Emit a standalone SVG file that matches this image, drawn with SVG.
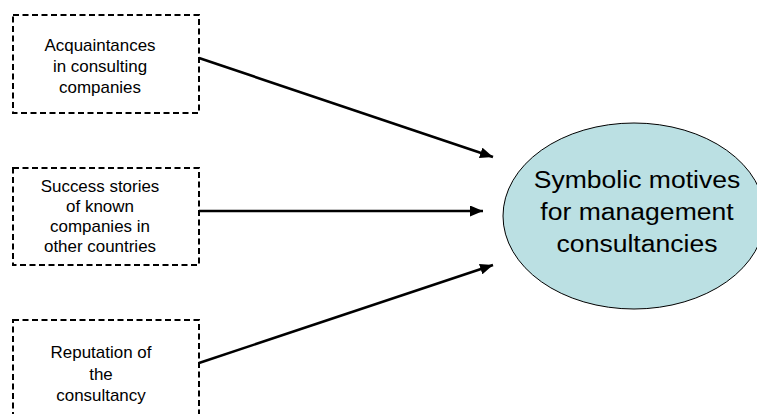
<svg xmlns="http://www.w3.org/2000/svg" width="757" height="414" viewBox="0 0 757 414">
<defs>
<style>
.box{fill:#fff;stroke:#000;stroke-width:2;stroke-dasharray:6,3.5}
.t{font-family:"Liberation Sans",Arial,sans-serif;font-size:16px;fill:#000;text-anchor:middle}
.big{font-family:"Liberation Sans",Arial,sans-serif;font-size:23.5px;fill:#000;text-anchor:middle}
.c{stroke:#000;stroke-width:2.6;fill:none}
</style>
<marker id="ah" viewBox="0 0 13 11" refX="13" refY="5.5" markerWidth="13" markerHeight="11" markerUnits="userSpaceOnUse" orient="auto">
<path d="M0,0 L13,5.5 L0,11 Z" fill="#000"/>
</marker>
</defs>
<rect width="757" height="414" fill="#fff"/>
<g id="n1">
<rect class="box" x="13" y="15" width="186" height="98"/>
<g transform="translate(100,0) scale(1.06,1)">
<text class="t" x="0" y="51">Acquaintances</text>
<text class="t" x="0" y="72">in consulting</text>
<text class="t" x="0" y="93">companies</text>
</g>
</g>
<g id="n2">
<rect class="box" x="13" y="168" width="186" height="97"/>
<g transform="translate(100,0) scale(1.06,1)">
<text class="t" x="0" y="192">Success stories</text>
<text class="t" x="0" y="212">of known</text>
<text class="t" x="0" y="232">companies in</text>
<text class="t" x="0" y="252">other countries</text>
</g>
</g>
<g id="n3">
<rect class="box" x="13" y="320" width="186" height="110"/>
<g transform="translate(101,0) scale(1.06,1)">
<text class="t" x="0" y="358">Reputation of</text>
<text class="t" x="0" y="380">the</text>
<text class="t" x="0" y="401">consultancy</text>
</g>
</g>
<g id="n4">
<ellipse cx="634" cy="216" rx="131" ry="93" fill="#bbe0e3" stroke="#000" stroke-width="1"/>
<g transform="translate(637,0) scale(1.13,1)">
<text class="big" x="0" y="188">Symbolic motives</text>
<text class="big" x="0" y="220">for management</text>
<text class="big" x="0" y="252">consultancies</text>
</g>
</g>
<g id="connectors">
<line class="c" x1="199" y1="58" x2="493" y2="157" marker-end="url(#ah)"/>
<line class="c" x1="199" y1="211" x2="483" y2="211" marker-end="url(#ah)"/>
<line class="c" x1="199" y1="363" x2="493" y2="265" marker-end="url(#ah)"/>
</g>
</svg>
